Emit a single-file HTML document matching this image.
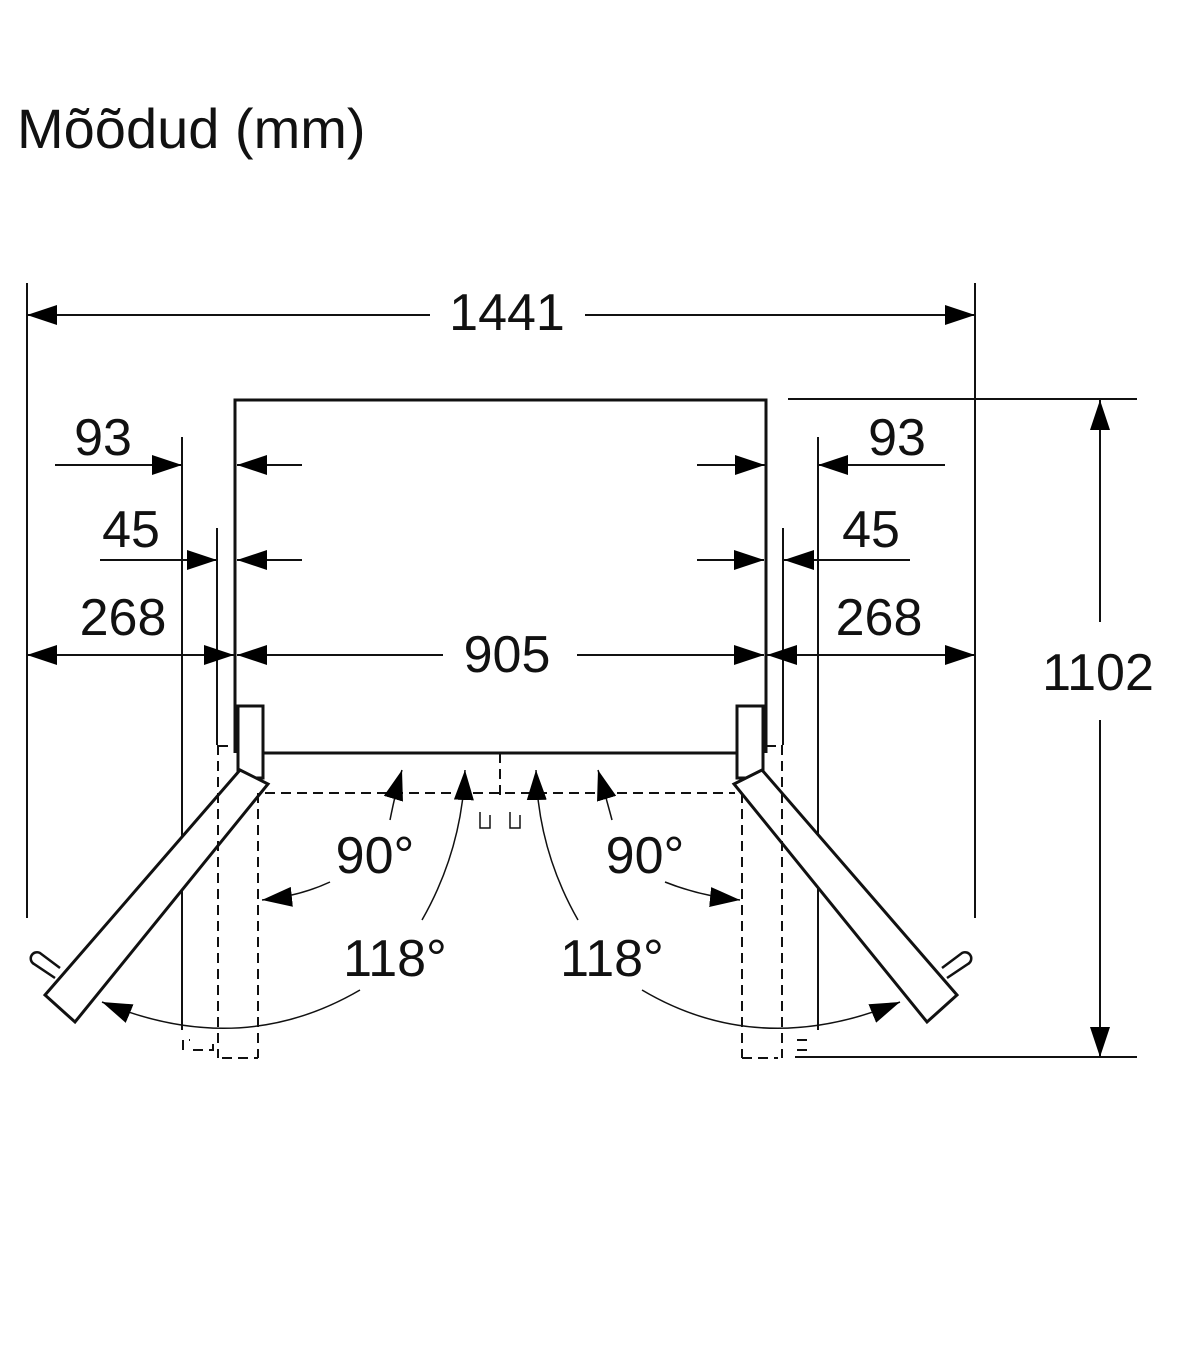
<!DOCTYPE html>
<html><head><meta charset="utf-8"><style>
html,body{margin:0;padding:0;background:#fff}
svg{display:block}
text{font-family:"Liberation Sans",sans-serif;fill:#111}
</style></head><body>
<svg width="1200" height="1372" viewBox="0 0 1200 1372">
<defs>
<marker id="b" markerWidth="30" markerHeight="20" refX="30" refY="10" orient="auto-start-reverse" markerUnits="userSpaceOnUse"><path d="M0,0 L30,10 L0,20Z"/></marker>
</defs>
<text x="17" y="148" font-size="56">Mõõdud (mm)</text>
<g stroke="#111" stroke-width="2" fill="none">
<line x1="27" y1="283" x2="27" y2="918"/>
<line x1="975" y1="283" x2="975" y2="918"/>
<line x1="182" y1="437" x2="182" y2="1030"/>
<line x1="818" y1="437" x2="818" y2="1030"/>
<line x1="217" y1="528" x2="217" y2="745"/>
<line x1="783" y1="528" x2="783" y2="745"/>
<line x1="788" y1="399" x2="1137" y2="399"/>
<line x1="795" y1="1057" x2="1137" y2="1057"/>
<line x1="27" y1="315" x2="430" y2="315" marker-start="url(#b)"/>
<line x1="585" y1="315" x2="975" y2="315" marker-end="url(#b)"/>
<line x1="55" y1="465" x2="182" y2="465" marker-end="url(#b)"/>
<line x1="302" y1="465" x2="237" y2="465" marker-end="url(#b)"/>
<line x1="697" y1="465" x2="765" y2="465" marker-end="url(#b)"/>
<line x1="945" y1="465" x2="818" y2="465" marker-end="url(#b)"/>
<line x1="100" y1="560" x2="217" y2="560" marker-end="url(#b)"/>
<line x1="302" y1="560" x2="237" y2="560" marker-end="url(#b)"/>
<line x1="697" y1="560" x2="764" y2="560" marker-end="url(#b)"/>
<line x1="910" y1="560" x2="784" y2="560" marker-end="url(#b)"/>
<line x1="27" y1="655" x2="234" y2="655" marker-start="url(#b)" marker-end="url(#b)"/>
<line x1="237" y1="655" x2="443" y2="655" marker-start="url(#b)"/>
<line x1="577" y1="655" x2="764" y2="655" marker-end="url(#b)"/>
<line x1="767" y1="655" x2="975" y2="655" marker-start="url(#b)" marker-end="url(#b)"/>
<line x1="1100" y1="400" x2="1100" y2="622" marker-start="url(#b)"/>
<line x1="1100" y1="720" x2="1100" y2="1057" marker-end="url(#b)"/>
</g>
<g stroke="#111" stroke-width="3" fill="none">
<path d="M235,753 V400 H766 V753"/>
<line x1="263" y1="753" x2="737" y2="753"/>
<rect x="238" y="706" width="25" height="72" fill="#fff"/>
<rect x="737" y="706" width="26" height="72" fill="#fff"/>
<path d="M240,770 L268,784 L75,1022 L45,995 Z" fill="#fff"/>
<path d="M762,770 L734,784 L927,1022 L957,995 Z" fill="#fff"/>
<path d="M55,978 L34,964 A6,6 0 0 1 40,953 L60,968" stroke-width="2.5"/>
<path d="M947,978 L968,964 A6,6 0 0 0 962,953 L942,968" stroke-width="2.5"/>
</g>
<g stroke="#111" stroke-width="2" fill="none" stroke-dasharray="10,6">
<line x1="218" y1="745" x2="218" y2="1058"/>
<line x1="218" y1="746" x2="235" y2="746"/>
<line x1="258" y1="793" x2="258" y2="1058"/>
<line x1="265" y1="793" x2="735" y2="793"/>
<line x1="222" y1="1058" x2="258" y2="1058"/>
<line x1="782" y1="745" x2="782" y2="1058"/>
<line x1="766" y1="746" x2="782" y2="746"/>
<line x1="742" y1="793" x2="742" y2="1058"/>
<line x1="742" y1="1058" x2="778" y2="1058"/>
<line x1="500" y1="753" x2="500" y2="795"/>
<path d="M183,1050 V1040 H190 M193,1050 H213 V1038"/>
<path d="M797,1040 H810 M797,1050 H812"/>
</g>
<g stroke="#111" stroke-width="1.5" fill="none">
<path d="M480,812 V828 H490 V815"/>
<path d="M510,812 V828 H520 V815"/>
<path d="M390,820 Q396,790 402,770" marker-end="url(#b)"/>
<path d="M422,920 Q462,850 465,770" marker-end="url(#b)"/>
<path d="M612,820 Q604,790 598,770" marker-end="url(#b)"/>
<path d="M578,920 Q538,850 536,770" marker-end="url(#b)"/>
<path d="M330,882 Q300,896 262,900" marker-end="url(#b)"/>
<path d="M665,882 Q700,896 740,900" marker-end="url(#b)"/>
<path d="M360,990 Q240,1060 102,1002" marker-end="url(#b)"/>
<path d="M642,990 Q760,1060 900,1002" marker-end="url(#b)"/>
</g>
<g font-size="52" text-anchor="middle">
<text x="507" y="330">1441</text>
<text x="103" y="455">93</text>
<text x="897" y="455">93</text>
<text x="131" y="547">45</text>
<text x="871" y="547">45</text>
<text x="123" y="635">268</text>
<text x="879" y="635">268</text>
<text x="507" y="672">905</text>
<text x="1098" y="690">1102</text>
<text x="375" y="873">90°</text>
<text x="645" y="873">90°</text>
<text x="395" y="976">118°</text>
<text x="612" y="976">118°</text>
</g>
</svg>
</body></html>
